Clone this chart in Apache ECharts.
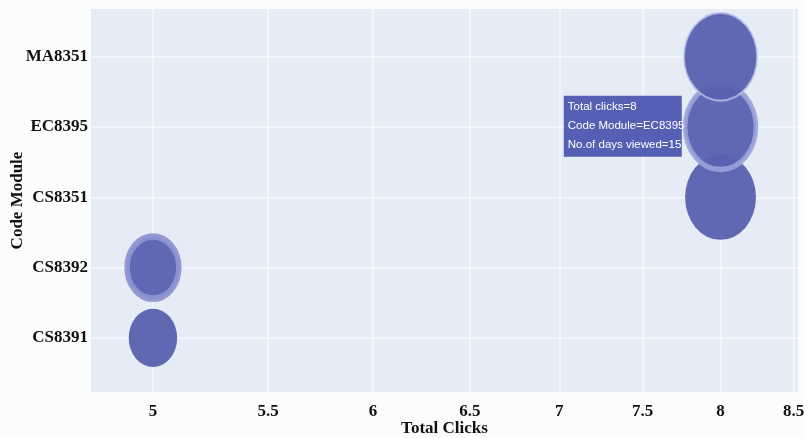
<!DOCTYPE html>
<html>
<head>
<meta charset="utf-8">
<script src="https://cdn.jsdelivr.net/npm/echarts@6/dist/echarts.min.js"></script>
<style>
html,body{margin:0;padding:0;background:#fbfcfe;}
#chart{width:804px;height:438px;}
</style>
</head>
<body>
<div id="chart"></div>
<script>
// ---- data ----
var modules = ['CS8391', 'CS8392', 'CS8351', 'EC8395', 'MA8351'];
var totalClicks = [5, 5, 8, 8, 8];
var daysViewed = [7, 8, 15, 15, 16];
var xTicks = [5, 5.5, 6, 6.5, 7, 7.5, 8, 8.5];
var yTicks = [0, 1, 2, 3, 4];
var hovered = 'EC8395';

// ---- styling ----
var bubbleColor = 'rgba(88,97,176,0.95)';
var specialStyle = {
  CS8392: { borderColor: 'rgba(140,148,208,0.95)', borderWidth: 6 },
  EC8395: { borderColor: 'rgba(155,162,216,0.9)', borderWidth: 5 },
  MA8351: { borderColor: 'rgba(190,196,236,0.75)', borderWidth: 2 }
};
var serif = '"Liberation Serif", "DejaVu Serif", serif';

var seriesData = modules.map(function (m, i) {
  var item = { name: m, value: [totalClicks[i], i, daysViewed[i]] };
  if (specialStyle[m]) item.itemStyle = specialStyle[m];
  if (m === hovered) {
    item.label = {
      show: true,
      position: [-119, 14],
      formatter: 'Total clicks=' + totalClicks[i] + '\nCode Module=' + m + '\nNo.of days viewed=' + daysViewed[i],
      color: '#ffffff',
      fontFamily: '"Liberation Sans", Arial, sans-serif',
      fontSize: 11.5,
      lineHeight: 19,
      backgroundColor: '#5560b4',
      padding: [2, 3, 2, 4],
      width: 111
    };
  }
  return item;
});

var chart = echarts.init(document.getElementById('chart'), null, { renderer: 'canvas' });
chart.setOption({
  backgroundColor: '#fbfcfe',
  animation: false,
  grid: { left: 91, right: 6, top: 9, bottom: 46, show: true, backgroundColor: '#e5ecf6', borderWidth: 0, outerBoundsMode: 'none', containLabel: false },
  xAxis: {
    type: 'log',
    logBase: 10,
    min: 4.75,
    max: 8.53,
    name: 'Total Clicks',
    nameLocation: 'middle',
    nameGap: 28,
    nameMoveOverlap: false,
    nameTextStyle: { fontFamily: serif, fontWeight: 'bold', fontSize: 17, color: '#111' },
    axisLine: { show: false },
    axisTick: { show: false, customValues: xTicks },
    axisLabel: { customValues: xTicks, fontFamily: serif, fontWeight: 'bold', fontSize: 17, color: '#111', margin: 11,
      formatter: function (v) { return String(Math.round(v * 100) / 100); } },
    splitLine: { show: true, lineStyle: { color: '#f6f8fc', width: 1.5 } }
  },
  yAxis: {
    type: 'value',
    min: -0.77,
    max: 4.68,
    name: 'Code Module',
    nameLocation: 'middle',
    nameGap: 65,
    nameMoveOverlap: false,
    nameRotate: 90,
    nameTextStyle: { fontFamily: serif, fontWeight: 'bold', fontSize: 17, color: '#111' },
    axisLine: { show: false },
    axisTick: { show: false, customValues: yTicks },
    axisLabel: { customValues: yTicks, fontFamily: serif, fontWeight: 'bold', fontSize: 17, color: '#111', margin: 3,
      formatter: function (v) { return modules[Math.round(v)] || ''; } },
    splitLine: { show: true, lineStyle: { color: '#f6f8fc', width: 1.5 } }
  },
  series: [{
    type: 'scatter',
    data: seriesData,
    symbol: 'circle',
    symbolSize: function (val) { var w = 18.3 * Math.sqrt(val[2]); return [w, w * 1.2]; },
    itemStyle: { color: bubbleColor, opacity: 1 },
    emphasis: { disabled: true }
  }]
});
</script>
</body>
</html>
